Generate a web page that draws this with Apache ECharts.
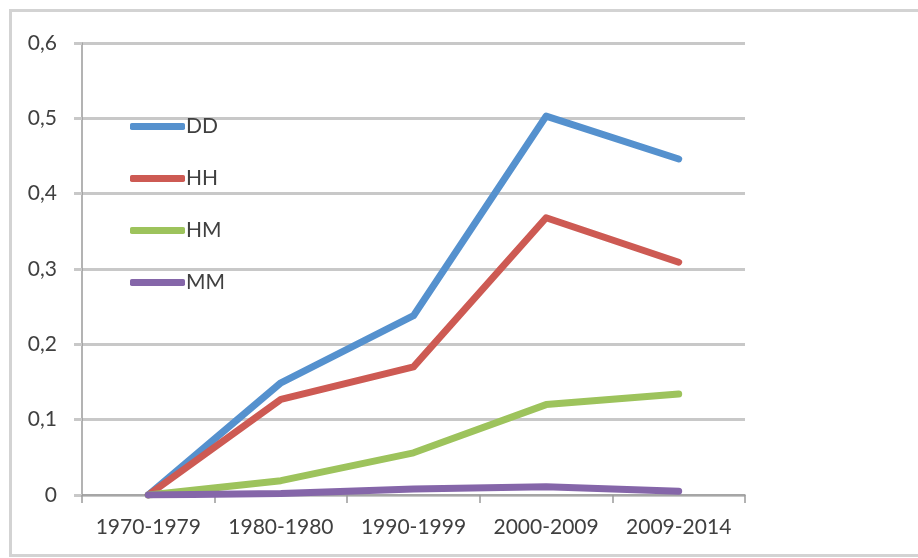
<!DOCTYPE html>
<html>
<head>
<meta charset="utf-8">
<script src="https://cdn.jsdelivr.net/npm/echarts@6/dist/echarts.min.js"></script>
<style>html,body{margin:0;padding:0;background:#fff}#c{width:918px;height:558px}</style>
</head>
<body>
<div id="c"></div>
<script>
var categories = ['1970-1979', '1980-1980', '1990-1999', '2000-2009', '2009-2014'];
var seriesNames = ['DD', 'HH', 'HM', 'MM'];
var ddValues = [0, 0.149, 0.238, 0.503, 0.446];
var hhValues = [0, 0.127, 0.170, 0.368, 0.309];
var hmValues = [0, 0.019, 0.056, 0.120, 0.134];
var mmValues = [0, 0.002, 0.008, 0.011, 0.005];
var yTicks = [0, 0.1, 0.2, 0.3, 0.4, 0.5, 0.6];
var colors = ['#5591CE', '#CD5A53', '#9DC35C', '#8566A9'];

var chart = echarts.init(document.getElementById('c'));
var values = [ddValues, hhValues, hmValues, mmValues];
var font = 'Lato';
chart.setOption({
  animation: false,
  color: colors,
  graphic: [{
    type: 'rect', left: 8, top: 8, z: -1,
    shape: { width: 960, height: 545 },
    style: { fill: 'none', stroke: '#d3d3d3', lineWidth: 3 }
  }],
  grid: { left: 82, right: 173, top: 43, bottom: 63 },
  legend: {
    orient: 'vertical', left: 125, top: 111,
    itemWidth: 55, itemHeight: 7, itemGap: 31,
    icon: 'roundRect',
    textStyle: { fontFamily: font, fontSize: 21, color: '#404040', padding: [6, 0, 0, -4] },
    data: seriesNames
  },
  xAxis: {
    type: 'category', data: categories, boundaryGap: true,
    axisLine: { lineStyle: { color: '#9a9a9a', width: 1.5 } },
    axisTick: { show: true, length: 8, alignWithLabel: false, interval: 0, lineStyle: { color: '#9a9a9a', width: 1.5 } },
    axisLabel: { fontFamily: font, fontSize: 21, color: '#404040', margin: 22, interval: 0, hideOverlap: false }
  },
  yAxis: {
    type: 'value', min: 0, max: 0.6, interval: 0.1,
    axisLine: { show: true, lineStyle: { color: '#9a9a9a', width: 1.5 } },
    axisTick: { show: true, length: 8, lineStyle: { color: '#c8c8c8', width: 3 } },
    splitLine: { lineStyle: { color: '#c8c8c8', width: 3 } },
    axisLabel: {
      fontFamily: font, fontSize: 21, color: '#404040', margin: 25,
      formatter: function (v) {
        var i = yTicks.findIndex(function (t) { return Math.abs(t - v) < 1e-9; });
        var t = i >= 0 ? yTicks[i] : v;
        return t === 0 ? '0' : String(+t.toFixed(1)).replace('.', ',');
      }
    }
  },
  series: seriesNames.map(function (n, i) {
    return {
      name: n, type: 'line', data: values[i], symbol: 'none',
      lineStyle: { width: 7, cap: 'round', join: 'round' }
    };
  })
});
</script>
</body>
</html>
